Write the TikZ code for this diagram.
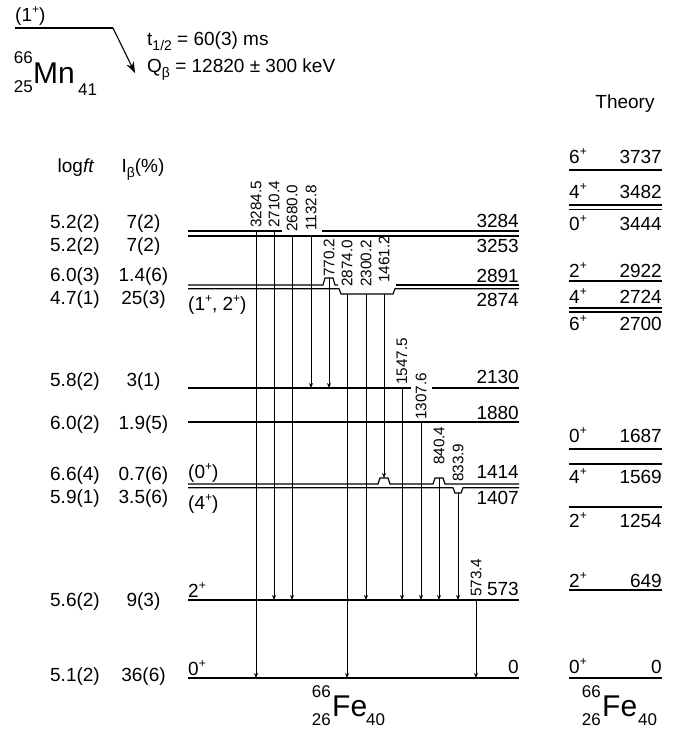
\documentclass[tikz,border=0pt]{standalone}
\usepackage{fontspec}
\setmainfont{Liberation Sans}
\usetikzlibrary{arrows.meta}
\newcommand\mysup[1]{\raisebox{7.5pt}{\fontsize{12}{12}\selectfont #1}}
\newcommand\mysub[1]{\raisebox{-5pt}{\fontsize{14}{14}\selectfont #1}}
\begin{document}
\begin{tikzpicture}[x=1pt,y=-1pt,
  lvl/.style={line width=1.15pt},
  gam/.style={line width=1pt,-{Stealth[length=5pt,width=4pt]}},
  txt/.style={font=\fontsize{19}{19}\selectfont, inner sep=0pt},
  glab/.style={font=\fontsize{15.3}{15.3}\selectfont, inner sep=0pt, rotate=90, anchor=west},
  big/.style={font=\fontsize{30}{30}\selectfont, inner sep=0pt},
  nucnum/.style={font=\fontsize{17}{17}\selectfont, inner sep=0pt}]
\useasboundingbox (0,0) rectangle (683,734);

% ---------- parent 66Mn ----------
\node[txt, anchor=base west] (mnspin) at (15,21) {(1\mysup{+})};
\coordinate (mnl) at (15,28);
\coordinate (mnr) at (113,28);
\coordinate (mnarr) at (135,73);
\draw[line width=1.2pt] (mnl) -- (mnr);
\draw[line width=1.1pt,-{Stealth[length=11pt,width=8pt]}] (mnr) -- (mnarr);
\node[big, anchor=base west] (mn) at (33,83) {Mn};
\node[nucnum, anchor=base east] (mnA) at (33,63) {66};
\node[nucnum, anchor=base east] (mnZ) at (33,92) {25};
\node[nucnum, anchor=base west] (mnN) at (78,95) {41};
\node[txt, anchor=base west] (thalf) at (147,45) {t\mysub{1/2} = 60(3) ms};
\node[txt, anchor=base west] (qbeta) at (147,72) {Q\mysub{β} = 12820 ± 300 keV};

% ---------- column headers ----------
\node[txt, anchor=base] (hlog) at (76,172) {log\textit{ft}};
\node[txt, anchor=base] (hib) at (143,172) {I\mysub{β}(\%)};
\node[txt, anchor=base] (hth) at (625,108) {Theory};

% ---------- logft / Ibeta rows ----------
\foreach \n/\y/\lf/\ib in {1/228/5.2(2)/7(2), 2/251/5.2(2)/7(2), 3/281/6.0(3)/1.4(6), 4/304/4.7(1)/25(3),
  5/386/5.8(2)/3(1), 6/429/6.0(2)/1.9(5), 7/480/6.6(4)/0.7(6), 8/503/5.9(1)/3.5(6),
  9/606/5.6(2)/9(3), 10/681/5.1(2)/36(6)}{
  \node[txt, anchor=base] (lf\n) at (75,\y) {\lf};
  \node[txt, anchor=base] (ib\n) at (143.5,\y) {\ib};
}

% ---------- experimental levels ----------
\draw[lvl] (188,231) -- (282,231);
\draw[lvl] (322,231) -- (519,231);
\draw[lvl] (188,236) -- (519,236);
\draw[lvl] (188,285) -- (323,285) -- (325,278) -- (333,278) -- (335,285) -- (338,285);
\draw[lvl] (396,285) -- (519,285);
\draw[lvl] (188,288.7) -- (339,288.7) -- (341,294) -- (393,294) -- (395,288.7) -- (519,288.7);
\draw[lvl] (188,388) -- (411,388);
\draw[lvl] (432,388) -- (519,388);
\draw[lvl] (188,422) -- (519,422);
\draw[lvl] (188,484) -- (378,484) -- (380,478) -- (388,478) -- (390,484) -- (433,484) -- (435,478) -- (443,478) -- (445,484) -- (519,484);
\draw[lvl] (188,487.7) -- (453,487.7) -- (455,493) -- (461,493) -- (463,487.7) -- (519,487.7);
\draw[lvl] (188,600) -- (519,600);
\draw[lvl] (188,678) -- (519,678);

% energies
\foreach \n/\y/\e in {a/227/3284, b/252/3253, c/282/2891, d/306/2874, e/383/2130,
  f/419/1880, g/478/1414, h/504/1407, i/595/573, j/673/0}{
  \node[txt, anchor=base east] (en\n) at (519,\y) {\e};
}
% spins
\node[txt, anchor=base west] (sp1) at (188,310) {(1\mysup{+}, 2\mysup{+})};
\node[txt, anchor=base west] (sp2) at (188,478) {(0\mysup{+})};
\node[txt, anchor=base west] (sp3) at (188,509) {(4\mysup{+})};
\node[txt, anchor=base west] (sp4) at (188,597) {2\mysup{+}};
\node[txt, anchor=base west] (sp5) at (188,675) {0\mysup{+}};

% ---------- gamma transitions ----------
\foreach \n/\x/\ya/\yb/\lab/\ly in {1/256/231/678/3284.5/228, 2/274/231/600/2710.4/228,
  3/292/236/600/2680.0/232, 4/311/236/388/1132.8/231, 5/329/278/388/770.2/277,
  6/347/294/678/2874.0/287, 7/366/294/600/2300.2/287, 8/384/294/478/1461.2/283,
  9/402/388/600/1547.5/385, 10/421/422/600/1307.6/420, 11/439/478/600/840.4/465,
  12/458/493/600/833.9/482, 13/476/600/678/573.4/597}{
  \coordinate (gs\n) at (\x,\ya);
  \coordinate (ge\n) at (\x,\yb);
  \draw[gam] (gs\n) -- (ge\n);
  \node[glab] (gl\n) at (\x,\ly) {\lab};
}

% ---------- daughter label ----------
\node[big, anchor=base west] (fe) at (332,716) {Fe};
\node[nucnum, anchor=base east] (feA) at (331,697) {66};
\node[nucnum, anchor=base east] (feZ) at (331,725) {26};
\node[nucnum, anchor=base west] (feN) at (366,725) {40};

% ---------- theory levels ----------
\foreach \n/\y/\sp/\e/\ty in {1/170/6/3737/163, 2/205/4/3482/198, 4/281/2/2922/277,
  5/308/4/2724/303, 7/449/0/1687/442, 10/590/2/649/587, 11/678/0/0/673}{
  \draw[lvl] (569,\y) -- (662,\y);
  \node[txt, anchor=base west] (ts\n) at (569,\ty) {\sp\mysup{+}};
  \node[txt, anchor=base east] (te\n) at (662,\ty) {\e};
}
\foreach \n/\y/\sp/\e/\ty in {3/209.5/0/3444/230, 6/312/6/2700/330, 8/464/4/1569/483, 9/507/2/1254/527}{
  \draw[lvl] (569,\y) -- (662,\y);
  \node[txt, anchor=base west] (ts\n) at (569,\ty) {\sp\mysup{+}};
  \node[txt, anchor=base east] (te\n) at (662,\ty) {\e};
}
\node[big, anchor=base west] (tfe) at (602,716) {Fe};
\node[nucnum, anchor=base east] (tfeA) at (601,697) {66};
\node[nucnum, anchor=base east] (tfeZ) at (601,725) {26};
\node[nucnum, anchor=base west] (tfeN) at (638,725) {40};
\end{tikzpicture}
\end{document}
